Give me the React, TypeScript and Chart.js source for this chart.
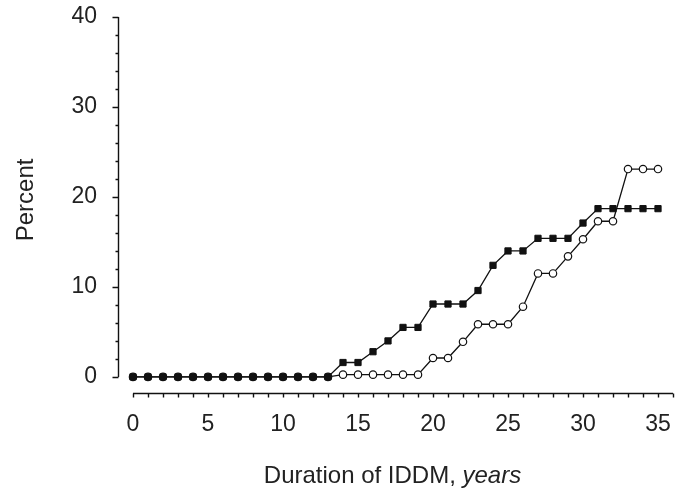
import { useEffect, useRef } from 'react';
import { Chart, registerables } from 'chart.js';

Chart.register(...registerables);

// Duration of IDDM (years)
const YEARS = [0, 1, 2, 3, 4, 5, 6, 7, 8, 9, 10, 11, 12, 13, 14, 15, 16, 17, 18, 19, 20, 21, 22, 23, 24, 25, 26, 27, 28, 29, 30, 31, 32, 33, 34, 35];
// Filled squares series (percent)
const FILLED = [0, 0, 0, 0, 0, 0, 0, 0, 0, 0, 0, 0, 0, 0, 1.6, 1.6, 2.8, 4.0, 5.5, 5.5, 8.1, 8.1, 8.1, 9.6, 12.4, 14.0, 14.0, 15.4, 15.4, 15.4, 17.1, 18.7, 18.7, 18.7, 18.7, 18.7];
// Open circles series (percent)
const OPEN = [0, 0, 0, 0, 0, 0, 0, 0, 0, 0, 0, 0, 0, 0, 0.25, 0.25, 0.25, 0.25, 0.25, 0.25, 2.1, 2.1, 3.9, 5.85, 5.85, 5.85, 7.8, 11.5, 11.5, 13.4, 15.3, 17.3, 17.3, 23.1, 23.1, 23.1];

const X_TICKS = [0, 5, 10, 15, 20, 25, 30, 35];
const Y_TICKS = [0, 10, 20, 30, 40];
const X_MINOR_MAX = 36;
const Y_MINOR_STEP = 2;
const X_TITLE_MAIN = 'Duration of IDDM, ';
const X_TITLE_ITALIC = 'years';
const Y_TITLE = 'Percent';

const FONT = '"Liberation Sans", Arial, Helvetica, sans-serif';
const INK = '#111';

const axesPlugin = {
  id: 'customAxes',
  afterDraw(chart: any) {
    const ctx = chart.ctx;
    const xs = chart.scales.x;
    const ys = chart.scales.y;
    const area = chart.chartArea;
    ctx.save();
    ctx.strokeStyle = INK;
    ctx.lineWidth = 1.4;
    // Y axis
    const yx = Math.round(area.left) + 0.5;
    const y0 = ys.getPixelForValue(0);
    const y40 = ys.getPixelForValue(Y_TICKS[Y_TICKS.length - 1]);
    ctx.beginPath();
    ctx.moveTo(yx, y0);
    ctx.lineTo(yx, y40);
    for (let v = 0; v <= Y_TICKS[Y_TICKS.length - 1]; v += Y_MINOR_STEP) {
      const py = Math.round(ys.getPixelForValue(v)) + 0.5;
      const len = v % 10 === 0 ? 6 : 3;
      ctx.moveTo(yx - len, py);
      ctx.lineTo(yx, py);
    }
    ctx.stroke();
    // X axis
    const xy = Math.round(area.bottom) - 0.5;
    const xStart = xs.getPixelForValue(0);
    const xEnd = xs.getPixelForValue(X_MINOR_MAX);
    ctx.beginPath();
    ctx.moveTo(xStart, xy);
    ctx.lineTo(xEnd, xy);
    for (let v = 0; v <= X_MINOR_MAX; v += 1) {
      const px = Math.round(xs.getPixelForValue(v)) + 0.5;
      ctx.moveTo(px, xy);
      ctx.lineTo(px, xy + 4);
    }
    ctx.stroke();
    // X title (regular + italic)
    const fontSize = 24;
    ctx.fillStyle = '#222';
    ctx.textBaseline = 'alphabetic';
    ctx.textAlign = 'left';
    ctx.font = `${fontSize}px ${FONT}`;
    const w1 = ctx.measureText(X_TITLE_MAIN).width;
    ctx.font = `italic ${fontSize}px ${FONT}`;
    const w2 = ctx.measureText(X_TITLE_ITALIC).width;
    const cx = xs.getPixelForValue(17.3);
    const startX = cx - (w1 + w2) / 2;
    const baseY = area.bottom + 89;
    ctx.font = `${fontSize}px ${FONT}`;
    ctx.fillText(X_TITLE_MAIN, startX, baseY);
    ctx.font = `italic ${fontSize}px ${FONT}`;
    ctx.fillText(X_TITLE_ITALIC, startX + w1, baseY);
    // Y title (rotated)
    ctx.save();
    ctx.translate(26, (ys.getPixelForValue(0) + ys.getPixelForValue(40)) / 2 + 3);
    ctx.rotate(-Math.PI / 2);
    ctx.font = `${fontSize}px ${FONT}`;
    ctx.textAlign = 'center';
    ctx.textBaseline = 'middle';
    ctx.fillText(Y_TITLE, 0, 0);
    ctx.restore();
    ctx.restore();
  },
};

export default function App() {
  const ref = useRef<HTMLCanvasElement | null>(null);

  useEffect(() => {
    if (!ref.current) return;
    const chart = new Chart(ref.current, {
      type: 'line',
      data: {
        datasets: [
          {
            label: 'Filled',
            data: YEARS.map((x, i) => ({ x, y: FILLED[i] })),
            borderColor: INK,
            backgroundColor: INK,
            borderWidth: 1.3,
            pointStyle: 'rect',
            pointRadius: 4.4,
            pointBorderWidth: 1,
            pointBackgroundColor: INK,
            pointBorderColor: INK,
            tension: 0,
          },
          {
            label: 'Open',
            data: YEARS.map((x, i) => ({ x, y: OPEN[i] })),
            borderColor: INK,
            backgroundColor: '#fff',
            borderWidth: 1.3,
            pointStyle: 'circle',
            pointRadius: 3.7,
            pointBorderWidth: 1.2,
            pointBackgroundColor: '#fff',
            pointBorderColor: INK,
            tension: 0,
          },
        ],
      },
      options: {
        animation: false,
        responsive: false,
        devicePixelRatio: 1,
        layout: { padding: { top: 17, right: 14, left: 0, bottom: 0 } },
        plugins: {
          legend: { display: false },
          tooltip: { enabled: false },
        },
        scales: {
          x: {
            type: 'linear',
            min: -1,
            max: 36,
            afterBuildTicks: (s: any) => {
              s.ticks = X_TICKS.map((v) => ({ value: v }));
            },
            afterFit: (s: any) => {
              s.height = 95;
              s.paddingLeft = 0;
              s.paddingRight = 0;
            },
            grid: { display: false, drawTicks: false },
            border: { display: false },
            ticks: {
              padding: 17,
              maxRotation: 0,
              autoSkip: false,
              color: '#222',
              font: { family: FONT, size: 23 },
              callback: (v: any) => String(v),
            },
          },
          y: {
            type: 'linear',
            min: -1.9,
            max: 40,
            afterBuildTicks: (s: any) => {
              s.ticks = Y_TICKS.map((v) => ({ value: v }));
            },
            afterFit: (s: any) => {
              s.width = 118;
              s.paddingTop = 0;
              s.paddingBottom = 0;
            },
            grid: { display: false, drawTicks: false },
            border: { display: false },
            ticks: {
              padding: 21,
              color: '#222',
              font: { family: FONT, size: 23 },
              callback: (v: any) => String(v),
            },
          },
        },
      },
      plugins: [axesPlugin],
    });
    return () => chart.destroy();
  }, []);

  return (
    <div style={{ position: 'fixed', left: 0, top: 0, width: 687, height: 489, background: '#fff' }}>
      <canvas ref={ref} width={687} height={489} style={{ display: 'block', width: 687, height: 489 }} />
    </div>
  );
}
